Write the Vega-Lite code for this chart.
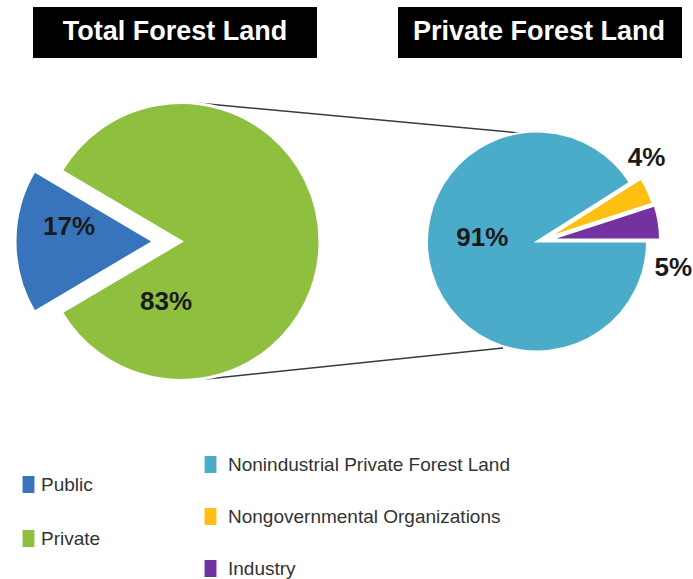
{
  "$schema": "https://vega.github.io/schema/vega-lite/v6.json",
  "width": 693,
  "height": 579,
  "padding": 0,
  "autosize": {"type": "none"},
  "background": "white",
  "config": {"view": {"stroke": null}, "font": "Liberation Sans"},
  "datasets": {
    "total": [
      {"panel": "Total Forest Land", "category": "Public", "value": 0.17},
      {"panel": "Total Forest Land", "category": "Private", "value": 0.83}
    ],
    "private": [
      {"panel": "Private Forest Land", "category": "Nonindustrial Private Forest Land", "value": 0.91},
      {"panel": "Private Forest Land", "category": "Nongovernmental Organizations", "value": 0.04},
      {"panel": "Private Forest Land", "category": "Industry", "value": 0.05}
    ],
    "titles": [
      {"panel": "Total Forest Land"},
      {"panel": "Private Forest Land"}
    ],
    "connectors": [
      {"edge": "top"},
      {"edge": "bottom"}
    ]
  },
  "layer": [
    {
      "data": {"name": "connectors"},
      "mark": {
        "type": "rule",
        "color": "#3a3a3a",
        "strokeWidth": 1.5,
        "xOffset": 16,
        "x2Offset": {"expr": "datum.edge === 'top' ? -17 : -34"},
        "y2Offset": {"expr": "datum.edge === 'top' ? 30 : -32"}
      },
      "encoding": {
        "x": {"datum": "Total Forest Land", "type": "nominal", "scale": {"type": "point", "domain": ["Total Forest Land", "Private Forest Land"], "range": [181, 537], "padding": 0}, "axis": null},
        "x2": {"datum": "Private Forest Land"},
        "y": {"field": "edge", "type": "nominal", "scale": {"type": "point", "domain": ["top", "center", "bottom"], "range": [103, 380], "padding": 0}, "axis": null},
        "y2": {"field": "edge"}
      }
    },
    {
      "data": {"name": "total"},
      "encoding": {
        "theta": {"field": "value", "type": "quantitative", "stack": true, "scale": {"range": [5.24646, 11.52965]}},
        "order": {"field": "category", "type": "ordinal", "sort": "ascending"},
        "x": {"field": "panel", "type": "nominal"},
        "y": {"datum": "center", "type": "nominal"},
        "color": {
          "field": "category",
          "type": "nominal",
          "scale": {"domain": ["Public", "Private"], "range": ["#3774bc", "#8fbf3e"]},
          "legend": {
            "orient": "none", "legendX": 19, "legendY": 475, "title": null, "padding": 0,
            "symbolType": "M-0.7,-1H0.7V1H-0.7Z", "symbolSize": 289, "symbolStrokeWidth": 0,
            "labelFontSize": 19, "labelFont": "Liberation Sans", "labelColor": "#333333",
            "rowPadding": 34, "labelOffset": 3, "labelLimit": 0
          }
        }
      },
      "layer": [
        {
          "mark": {"type": "arc", "outerRadius": 139, "stroke": "white", "strokeWidth": 3,
                   "xOffset": {"expr": "datum.category === 'Public' ? -27 : 0"}}
        },
        {
          "mark": {"type": "text", "fontSize": 26, "fontWeight": "bold", "baseline": "middle", "align": "center",
                   "radius": {"expr": "datum.category === 'Public' ? 112 : 0"},
                   "dx": {"expr": "datum.category === 'Public' ? 0 : -15"},
                   "dy": {"expr": "datum.category === 'Public' ? -14 : 60"}},
          "encoding": {
            "text": {"field": "value", "type": "quantitative", "format": ".0%"},
            "color": {"value": "#1a1a1a"}
          }
        }
      ]
    },
    {
      "data": {"name": "private"},
      "encoding": {
        "theta": {"field": "value", "type": "quantitative", "stack": true, "scale": {"range": [1.570796, 7.853982]}},
        "order": {"field": "category", "type": "ordinal", "sort": "descending"},
        "x": {"field": "panel", "type": "nominal"},
        "y": {"datum": "center", "type": "nominal"},
        "color": {
          "field": "category",
          "type": "nominal",
          "scale": {"domain": ["Nonindustrial Private Forest Land", "Nongovernmental Organizations", "Industry"], "range": ["#4aacc8", "#fcbf12", "#7332a0"]},
          "legend": {
            "orient": "none", "legendX": 201, "legendY": 455, "title": null, "padding": 0,
            "symbolType": "M-0.7,-1H0.7V1H-0.7Z", "symbolSize": 289, "symbolStrokeWidth": 0,
            "labelFontSize": 19, "labelFont": "Liberation Sans", "labelColor": "#333333",
            "rowPadding": 32, "labelOffset": 8, "labelLimit": 0
          }
        }
      },
      "layer": [
        {
          "mark": {"type": "arc", "outerRadius": 110, "stroke": "white", "strokeWidth": 2,
                   "xOffset": {"expr": "datum.category === 'Nongovernmental Organizations' ? 11 : datum.category === 'Industry' ? 13 : 0"},
                   "yOffset": {"expr": "datum.category === 'Nongovernmental Organizations' ? -4 : datum.category === 'Industry' ? -2 : 0"}}
        },
        {
          "mark": {"type": "text", "fontSize": 26, "fontWeight": "bold", "baseline": "middle", "align": "center",
                   "radius": {"expr": "datum.category === 'Nonindustrial Private Forest Land' ? 60 : 130"},
                   "dx": {"expr": "datum.category === 'Nonindustrial Private Forest Land' ? 3 : datum.category === 'Industry' ? 8 : -8"},
                   "dy": {"expr": "datum.category === 'Nonindustrial Private Forest Land' ? -20 : datum.category === 'Industry' ? 47 : -28"}},
          "encoding": {
            "text": {"field": "value", "type": "quantitative", "format": ".0%"},
            "color": {"value": "#1a1a1a"}
          }
        }
      ]
    },
    {
      "data": {"name": "titles"},
      "encoding": {
        "x": {"field": "panel", "type": "nominal"},
        "y": {"datum": "top", "type": "nominal"}
      },
      "layer": [
        {
          "mark": {"type": "point", "shape": "M-1,-0.1796H1V0.1796H-1Z", "size": 80656, "filled": true,
                   "color": "black", "opacity": 1, "strokeWidth": 0,
                   "xOffset": {"expr": "datum.panel === 'Total Forest Land' ? -6 : 3"}, "yOffset": -70.5}
        },
        {
          "mark": {"type": "text", "color": "white", "fontSize": 27, "fontWeight": "bold", "baseline": "middle", "align": "center",
                   "xOffset": {"expr": "datum.panel === 'Total Forest Land' ? -6 : 2"}, "yOffset": -71},
          "encoding": {"text": {"field": "panel", "type": "nominal"}}
        }
      ]
    }
  ],
  "resolve": {"scale": {"theta": "independent", "color": "independent"}}
}
